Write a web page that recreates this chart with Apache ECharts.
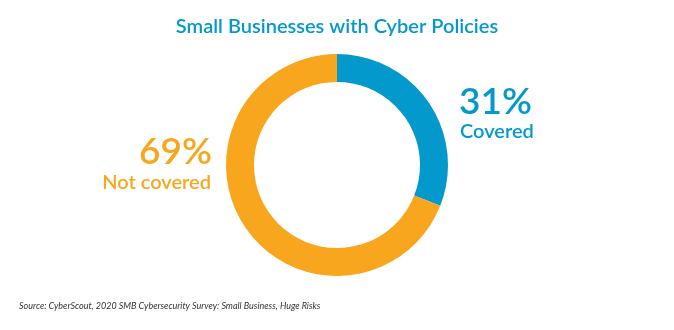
<!DOCTYPE html>
<html>
<head>
<meta charset="utf-8">
<style>
  html, body { margin: 0; padding: 0; background: #fff; }
  #chart { width: 674px; height: 330px; }
</style>
<script src="https://cdn.jsdelivr.net/npm/echarts@6/dist/echarts.min.js"></script>
</head>
<body>
<div id="chart"></div>
<script>
// Share of small businesses holding a cyber insurance policy
const categories = ['Covered', 'Not covered'];
const shares = [31, 69];
const colors = ['#0399cc', '#f8a61d'];

const FONT = 'Lato, "Open Sans", sans-serif';
const chart = echarts.init(document.getElementById('chart'), null, { renderer: 'canvas' });

chart.setOption({
  backgroundColor: '#ffffff',
  animation: false,
  title: {
    text: 'Small Businesses with Cyber Policies',
    left: 'center',
    top: 12,
    textStyle: { color: '#0399cc', fontFamily: FONT, fontSize: 20, fontWeight: 600 }
  },
  series: [{
    type: 'pie',
    center: [337, 165],
    radius: [83, 111],
    startAngle: 90,
    clockwise: true,
    silent: true,
    label: { show: false },
    labelLine: { show: false },
    itemStyle: { borderWidth: 0 },
    data: categories.map((name, i) => ({ name, value: shares[i], itemStyle: { color: colors[i] } }))
  }],
  graphic: [
    // Covered callout (right side)
    { type: 'text', left: 459, top: 84,
      style: { text: shares[0] + '%', fill: colors[0], font: `600 37px ${FONT}` } },
    { type: 'text', left: 460, top: 122,
      style: { text: categories[0], fill: colors[0], font: `600 20px ${FONT}` } },
    // Not covered callout (left side, right-aligned)
    { type: 'text', right: 674 - 212, top: 134,
      style: { text: shares[1] + '%', fill: colors[1], font: `600 37px ${FONT}`, align: 'right' } },
    { type: 'text', right: 674 - 211, top: 173,
      style: { text: categories[1], fill: colors[1], font: `600 20px ${FONT}`, align: 'right' } },
    // Source note
    { type: 'text', left: 19, top: 302,
      style: { text: 'Source: CyberScout, 2020 SMB Cybersecurity Survey: Small Business, Huge Risks',
               fill: '#333333', font: `italic 9px ${FONT}` } }
  ]
});
</script>
</body>
</html>
